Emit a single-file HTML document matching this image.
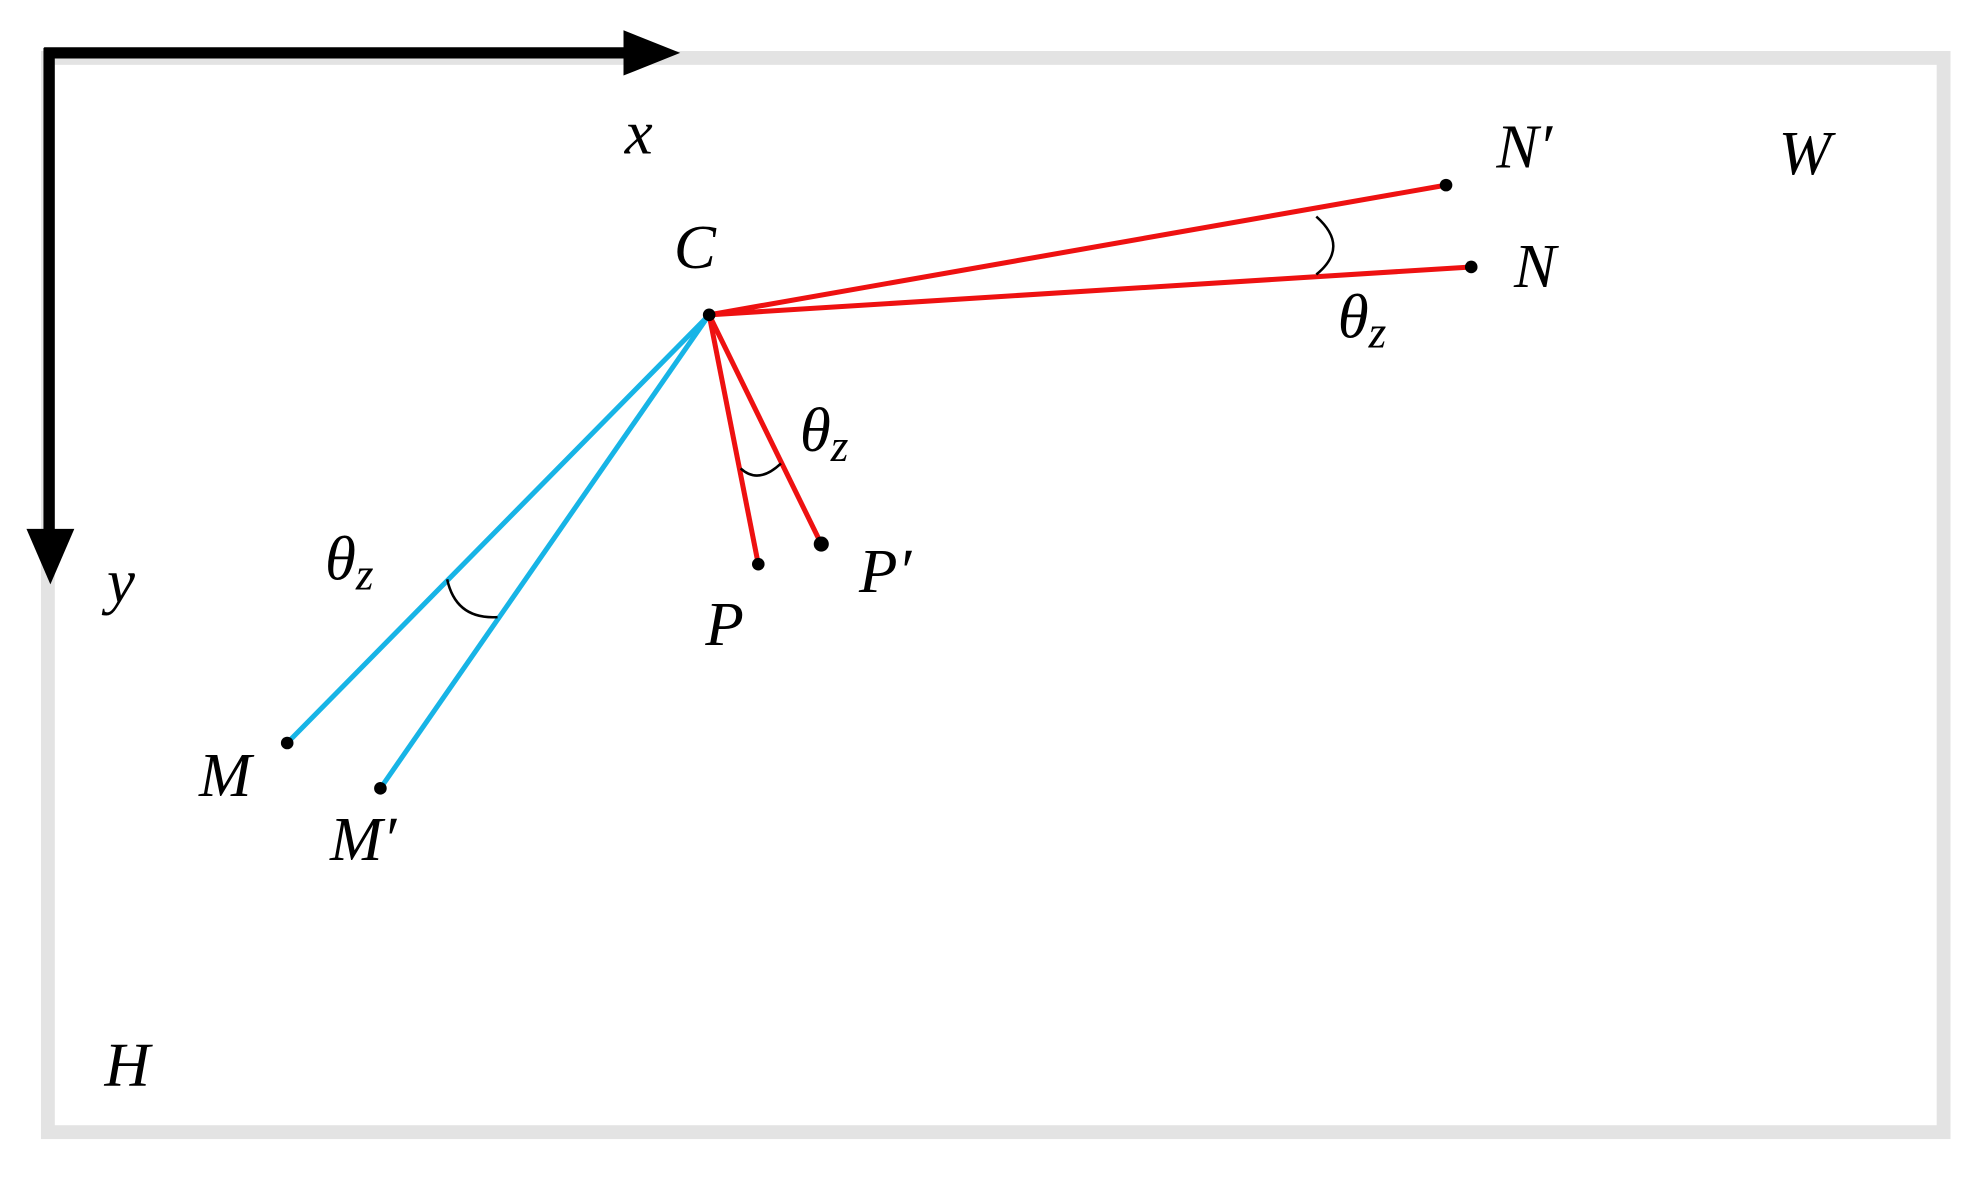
<!DOCTYPE html>
<html><head><meta charset="utf-8"><style>
html,body{margin:0;padding:0;background:#fff;}
svg{display:block;}
text{font-family:"Liberation Serif",serif;font-style:italic;fill:#000;}
</style></head><body>
<svg width="1965" height="1180" viewBox="0 0 1560 937" preserveAspectRatio="none" xmlns="http://www.w3.org/2000/svg">
<rect x="0" y="0" width="1560" height="937" fill="#fff"/>
<rect x="38" y="46" width="1505" height="853" fill="none" stroke="#e3e3e3" stroke-width="11"/>
<!-- axes -->
<line x1="35" y1="42" x2="500" y2="42" stroke="#000" stroke-width="9"/>
<polygon points="495,24 540,42 495,60" fill="#000"/>
<line x1="39" y1="38" x2="39" y2="425" stroke="#000" stroke-width="9"/>
<polygon points="21,420 40,464 59,420" fill="#000"/>
<!-- red lines -->
<g stroke="#ee1111" stroke-width="4" fill="none">
<line x1="563" y1="250" x2="1148" y2="147"/>
<line x1="563" y1="250" x2="1168" y2="212"/>
<line x1="563" y1="250" x2="602" y2="448"/>
<line x1="563" y1="250" x2="652" y2="432"/>
</g>
<g stroke="#17b4e6" stroke-width="4" fill="none">
<line x1="563" y1="250" x2="228" y2="590"/>
<line x1="563" y1="250" x2="302" y2="626"/>
</g>
<!-- arcs -->
<g stroke="#000" stroke-width="2" fill="none">
<path d="M1045,172 Q1072,196 1045,218"/>
<path d="M588,372 Q602,385 620,368"/>
<path d="M355,460 Q362,492 395,490"/>
</g>
<g fill="#000">
<circle cx="563" cy="250" r="5"/>
<circle cx="1148" cy="147" r="5"/>
<circle cx="1168" cy="212" r="5"/>
<circle cx="602" cy="448" r="5"/>
<circle cx="652" cy="432" r="6"/>
<circle cx="228" cy="590" r="5"/>
<circle cx="302" cy="626" r="5"/>
</g>
<g font-size="50">
<text x="496" y="122">x</text>
<text x="1412" y="138">W</text>
<text x="1188" y="133">N′</text>
<text x="1202" y="228">N</text>
<text x="535" y="213">C</text>
<text x="1062" y="268">θ<tspan font-size="36" dy="8">z</tspan></text>
<text x="635" y="358">θ<tspan font-size="36" dy="8">z</tspan></text>
<text x="682" y="470">P′</text>
<text x="560" y="512">P</text>
<text x="85" y="478">y</text>
<text x="258" y="460">θ<tspan font-size="36" dy="8">z</tspan></text>
<text x="158" y="632">M</text>
<text x="262" y="683">M′</text>
<text x="83" y="862">H</text>
</g>
</svg>
</body></html>
